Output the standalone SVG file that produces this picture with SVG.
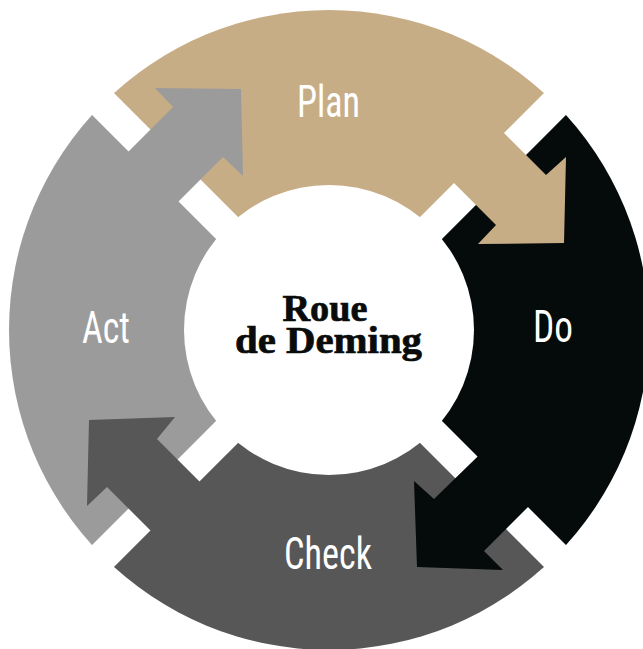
<svg xmlns="http://www.w3.org/2000/svg" width="643" height="649" viewBox="0 0 643 649">
  <style>
    .lbl { font-family: "Liberation Sans Narrow", "Roboto Condensed", "Liberation Sans", Roboto, sans-serif; font-size: 45px; fill: #ffffff; text-anchor: middle; }
    .title { font-family: "Liberation Serif", "DejaVu Serif", serif; font-weight: bold; font-size: 38px; fill: #0a0c0c; stroke: #0a0c0c; stroke-width: 0.7; text-anchor: middle; }
    .gap { stroke: #ffffff; stroke-width: 31; }
  </style>
  <rect width="643" height="649" fill="#ffffff"/>
  <g id="segments">
    <path id="plan-seg" d="M329 330 L102.73 103.73 A320 320 0 0 1 555.27 103.73 Z" fill="#c7ad86"/>
    <path id="do-seg" d="M329 330 L555.27 103.73 A320 320 0 0 1 555.27 556.27 Z" fill="#050a0a"/>
    <path id="check-seg" d="M329 330 L555.27 556.27 A320 320 0 0 1 102.73 556.27 Z" fill="#575757"/>
    <path id="act-seg" d="M329 330 L102.73 556.27 A320 320 0 0 1 102.73 103.73 Z" fill="#9b9b9b"/>
  </g>
  <g id="gaps">
    <line class="gap" x1="89" y1="90" x2="569" y2="570"/>
    <line class="gap" x1="89" y1="570" x2="569" y2="90"/>
  </g>
  <circle id="hub" cx="329" cy="330" r="145" fill="#ffffff"/>
  <g id="connectors">
    <polygon id="act-to-plan" points="95,185 173,107 155,88 241,89 243,176 223,157 145,235" fill="#9b9b9b"/>
    <polygon id="plan-to-do" points="468,97 546,175 566,157 564,243 478,244 496,225 418,147" fill="#c7ad86"/>
    <polygon id="do-to-check" points="562,473 484,551 503,570 417,567 414,481 434,499 512,423" fill="#050a0a"/>
    <polygon id="check-to-act" points="235,517 157,439 175,417 89,420 87,506 107,487 185,565" fill="#575757"/>
  </g>
  <g id="plan"><text class="lbl" x="328.5" y="117" textLength="63" lengthAdjust="spacingAndGlyphs">Plan</text></g>
  <g id="do"><text class="lbl" x="553" y="342" textLength="40" lengthAdjust="spacingAndGlyphs">Do</text></g>
  <g id="check"><text class="lbl" x="328" y="569" textLength="88" lengthAdjust="spacingAndGlyphs">Check</text></g>
  <g id="act"><text class="lbl" x="106" y="343" textLength="48" lengthAdjust="spacingAndGlyphs">Act</text></g>
  <g id="center">
    <text class="title"><tspan x="325" y="321" textLength="85" lengthAdjust="spacingAndGlyphs">Roue</tspan><tspan x="328.5" y="353" textLength="187" lengthAdjust="spacingAndGlyphs">de Deming</tspan></text>
  </g>
</svg>
